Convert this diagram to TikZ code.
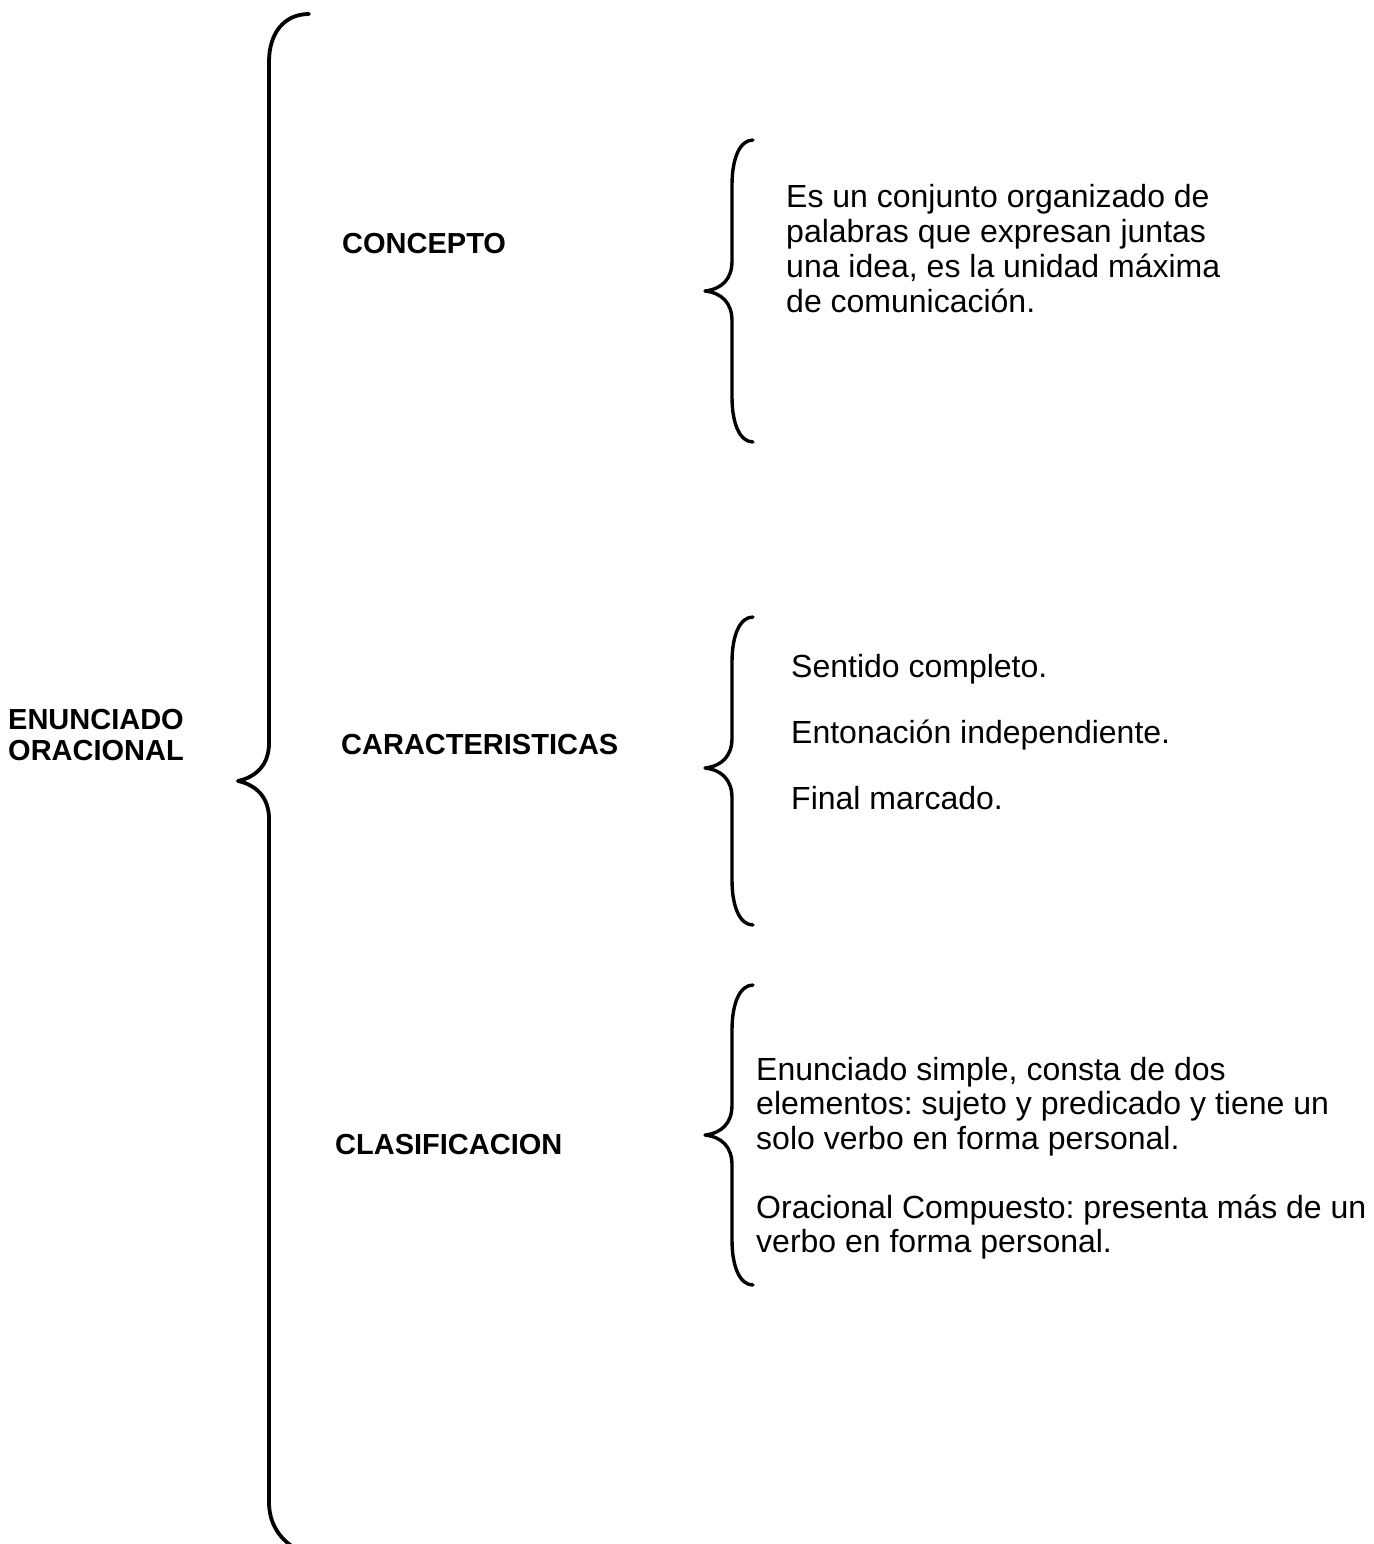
\documentclass[tikz,border=0pt]{standalone}
\usepackage{fontspec}
\setmainfont{Liberation Sans}
\begin{document}
\frenchspacing
\begin{tikzpicture}[x=1pt,y=-1pt,
  brace/.style={line width=3.8pt, line cap=round, line join=round},
  head/.style={anchor=base west, inner sep=0pt, font=\fontsize{29}{31}\selectfont\bfseries},
  body/.style={anchor=base west, inner sep=0pt, font=\fontsize{32}{35}\selectfont\frenchspacing}]
\useasboundingbox (0,0) rectangle (1373,1544);
% main brace
\draw[brace] (309,14) .. controls (285,14) and (269,32) .. (269,62)
  -- (269,743) .. controls (269,765) and (256,777) .. (238,781)
  .. controls (256,785) and (269,797) .. (269,819)
  -- (269,1502) .. controls (269,1524) and (280,1540) .. (298,1550);
% small braces
\foreach \t/\m/\b in {140/291/442, 617/768/925, 985/1135/1285}{
  \draw[brace, line width=3.4pt] (753,\t) .. controls (740,\t) and (732,\t+18) .. (732,\t+45)
    -- (732,\m-30) .. controls (732,\m-12) and (722,\m-2) .. (705,\m)
    .. controls (722,\m+2) and (732,\m+12) .. (732,\m+30)
    -- (732,\b-45) .. controls (732,\b-18) and (740,\b) .. (753,\b);
}
\node[head] (enun1) at (8,729) {ENUNCIADO};
\node[head] (enun2) at (8,760) {ORACIONAL};
\node[head] (concepto) at (342,253) {CONCEPTO};
\node[head] (caract) at (341,754) {CARACTERISTICAS};
\node[head] (clasif) at (335,1154) {CLASIFICACION};
% concepto text
\node[body] (c1) at (786,207) {Es un conjunto organizado de};
\node[body] (c2) at (786,242) {palabras que expresan juntas};
\node[body] (c3) at (786,277) {una idea, es la unidad máxima};
\node[body] (c4) at (786,312) {de comunicación.};
% caracteristicas
\node[body] (k1) at (791,677) {Sentido completo.};
\node[body] (k2) at (791,743) {Entonación independiente.};
\node[body] (k3) at (791,809) {Final marcado.};
% clasificacion
\node[body] (s1) at (756,1080) {Enunciado simple, consta de dos};
\node[body] (s2) at (756,1114) {elementos: sujeto y predicado y tiene un};
\node[body] (s3) at (756,1149) {solo verbo en forma personal.};
\node[body] (s4) at (756,1218) {Oracional Compuesto: presenta más de un};
\node[body] (s5) at (756,1252) {verbo en forma personal.};
\end{tikzpicture}
\end{document}
